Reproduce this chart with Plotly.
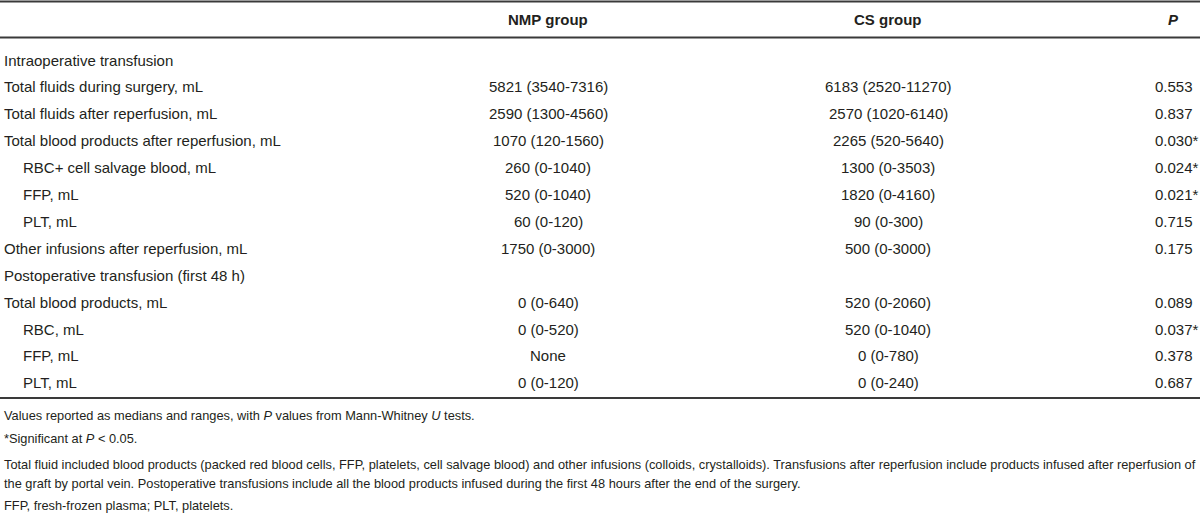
import plotly.graph_objects as go

# ---- data ----
row_labels = [
    "Intraoperative transfusion",
    "Total fluids during surgery, mL",
    "Total fluids after reperfusion, mL",
    "Total blood products after reperfusion, mL",
    "RBC+ cell salvage blood, mL",
    "FFP, mL",
    "PLT, mL",
    "Other infusions after reperfusion, mL",
    "Postoperative transfusion (first 48 h)",
    "Total blood products, mL",
    "RBC, mL",
    "FFP, mL",
    "PLT, mL",
]
row_indent = [0, 0, 0, 0, 1, 1, 1, 0, 0, 0, 1, 1, 1]
nmp_values = ["", "5821 (3540-7316)", "2590 (1300-4560)", "1070 (120-1560)", "260 (0-1040)",
              "520 (0-1040)", "60 (0-120)", "1750 (0-3000)", "", "0 (0-640)", "0 (0-520)",
              "None", "0 (0-120)"]
cs_values = ["", "6183 (2520-11270)", "2570 (1020-6140)", "2265 (520-5640)", "1300 (0-3503)",
             "1820 (0-4160)", "90 (0-300)", "500 (0-3000)", "", "520 (0-2060)", "520 (0-1040)",
             "0 (0-780)", "0 (0-240)"]
p_values = ["", "0.553", "0.837", "0.030*", "0.024*", "0.021*", "0.715", "0.175", "",
            "0.089", "0.037*", "0.378", "0.687"]
headers = ["", "NMP group", "CS group", "<i>P</i>"]
footnotes = [
    "Values reported as medians and ranges, with <i>P</i> values from Mann-Whitney <i>U</i> tests.",
    "*Significant at <i>P</i> < 0.05.",
    "Total fluid included blood products (packed red blood cells, FFP, platelets, cell salvage blood) and other infusions (colloids, crystalloids). Transfusions after reperfusion include products infused after reperfusion of",
    "the graft by portal vein. Postoperative transfusions include all the blood products infused during the first 48 hours after the end of the surgery.",
    "FFP, fresh-frozen plasma; PLT, platelets.",
]

# ---- layout constants ----
W, H = 1200, 518
ROW0_PX, ROW_STEP = 60.0, 26.9
FONT = "Liberation Sans Narrow, Arial Narrow, Liberation Sans, Arial, sans-serif"
TXT = "#231f20"
BODY = 15
FOOT = 12.8

def px_to_y(px):
    return (px - ROW0_PX) / ROW_STEP

fig = go.Figure()
fig.add_trace(go.Scatter(x=[0], y=[0], mode="markers", marker=dict(opacity=0), hoverinfo="skip",
                         showlegend=False))

ann = []
col_label_x = 2
col_nmp_x = 548
col_cs_x = 888
col_p_x = 1153

# header
header_y = px_to_y(19)
ann.append(dict(x=col_nmp_x, y=header_y, text="<b>" + headers[1] + "</b>", xanchor="center"))
ann.append(dict(x=col_cs_x, y=header_y, text="<b>" + headers[2] + "</b>", xanchor="center"))
ann.append(dict(x=1181, y=header_y, text="<b>" + headers[3] + "</b>", xanchor="right"))

for i, lab in enumerate(row_labels):
    ann.append(dict(x=col_label_x + 19 * row_indent[i], y=i, text=lab, xanchor="left"))
    if nmp_values[i]:
        ann.append(dict(x=col_nmp_x, y=i, text=nmp_values[i], xanchor="center"))
    if cs_values[i]:
        ann.append(dict(x=col_cs_x, y=i, text=cs_values[i], xanchor="center"))
    if p_values[i]:
        ann.append(dict(x=col_p_x, y=i, text=p_values[i], xanchor="left"))

annotations = []
for a in ann:
    a.update(xref="x", yref="y", yanchor="middle", showarrow=False,
             font=dict(family=FONT, size=BODY, color=TXT))
    annotations.append(a)

foot_px = [415, 438, 464, 483, 505]
for t, py in zip(footnotes, foot_px):
    annotations.append(dict(x=2, y=px_to_y(py), xref="x", yref="y", text=t, xanchor="left",
                            yanchor="middle", showarrow=False,
                            font=dict(family=FONT, size=FOOT, color=TXT)))

shapes = []
for py, lw in [(1.5, 2), (37.5, 2), (398, 2)]:
    shapes.append(dict(type="line", xref="x", yref="y", x0=0, x1=W, y0=px_to_y(py), y1=px_to_y(py),
                       line=dict(color="#3a3a3a", width=lw)))

fig.update_layout(
    width=W, height=H, margin=dict(l=0, r=0, t=0, b=0),
    paper_bgcolor="white", plot_bgcolor="white",
    xaxis=dict(range=[0, W], visible=False, fixedrange=True),
    yaxis=dict(range=[px_to_y(H), px_to_y(0)], visible=False, fixedrange=True),
    annotations=annotations, shapes=shapes, showlegend=False,
)
fig.write_html("out.html", config={"displayModeBar": False},
               post_script="document.body.style.margin='0';document.body.style.overflow='hidden';")
